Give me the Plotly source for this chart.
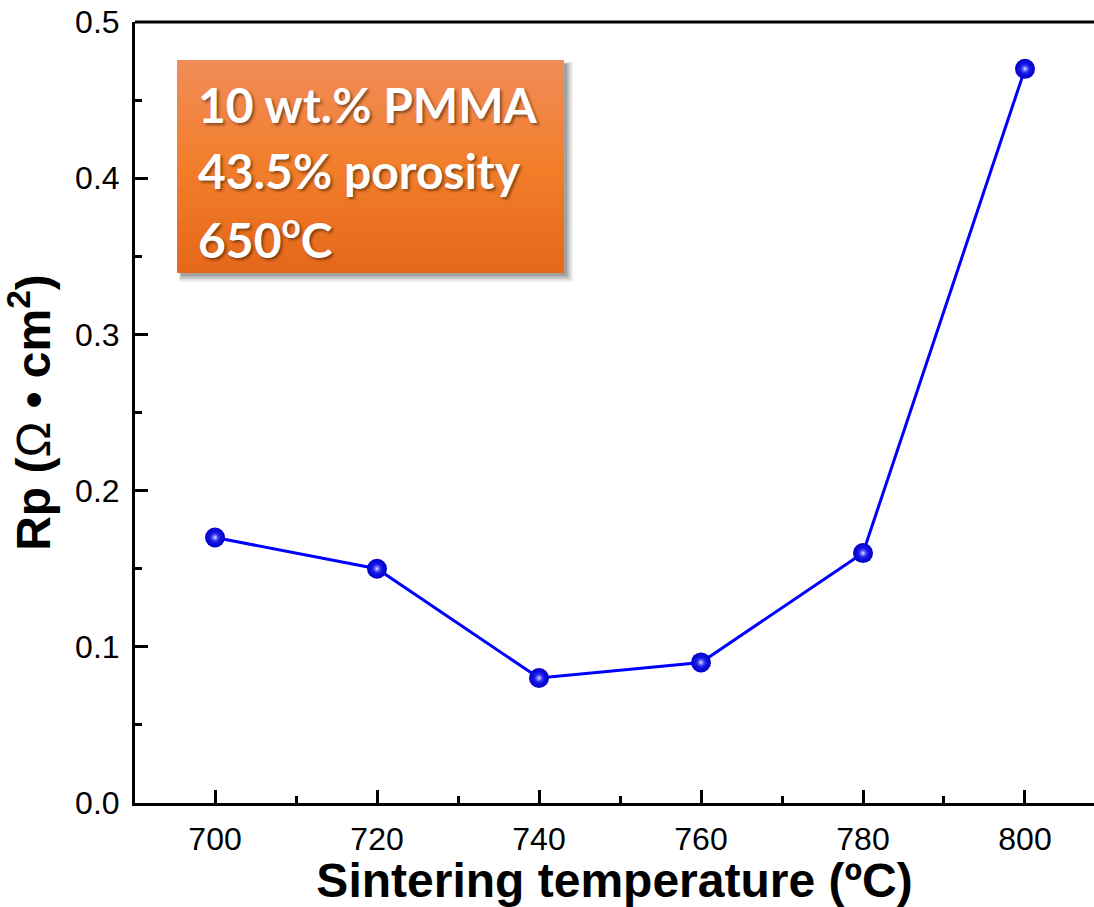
import plotly.graph_objects as go

# Polarization resistance vs sintering temperature
temperature = [700, 720, 740, 760, 780, 800]
rp = [0.17, 0.15, 0.08, 0.09, 0.16, 0.47]

x_ticks = [700, 720, 740, 760, 780, 800]
y_ticks = [0.0, 0.1, 0.2, 0.3, 0.4, 0.5]
y_tick_labels = ["0.0", "0.1", "0.2", "0.3", "0.4", "0.5"]

box_lines = ["10 wt.% PMMA", "43.5% porosity", "650<sup>o</sup>C"]

W, H = 1094, 907
ML, MR, MT, MB = 135, 0, 22, 104

fig = go.Figure()

fig.add_trace(go.Scatter(
    x=temperature, y=rp, mode="lines",
    line=dict(color="#0000ff", width=3),
    hoverinfo="skip", showlegend=False,
))
# shaded spheres: blue body (radial gradient: centre = gradient.color) plus a soft highlight
fig.add_trace(go.Scatter(
    x=temperature, y=rp, mode="markers",
    marker=dict(size=20, color="#0000c8", line=dict(width=0),
                gradient=dict(type="radial", color="#2a2aff")),
    showlegend=False,
))
fig.add_trace(go.Scatter(
    x=temperature, y=rp, mode="markers",
    marker=dict(size=11, color="rgba(40,40,255,0)", line=dict(width=0),
                gradient=dict(type="radial", color="#eeeeff")),
    hoverinfo="skip", showlegend=False,
))

shapes = []

# px -> paper helpers for the annotation box
def px_x(p):
    return (p - ML) / (W - ML - MR)

def px_y(p):
    return 1 - (p - MT) / (H - MT - MB)

bx0, bx1, by0, by1 = 177, 564, 60, 273

# soft drop shadow
for i, a in enumerate([0.06, 0.07, 0.08, 0.1, 0.12]):
    off = 9 - i * 1.5
    shapes.append(dict(type="rect", xref="paper", yref="paper",
                       x0=px_x(bx0 + 2 + i * 0.5), x1=px_x(bx1 + off),
                       y0=px_y(by1 + off), y1=px_y(by0 + 2 + i * 0.5),
                       line=dict(width=0), fillcolor=f"rgba(0,0,0,{a})", layer="above"))

# vertical orange gradient
top = (241, 140, 88)
mid = (242, 126, 42)
bot = (230, 104, 26)
n = 60
for i in range(n):
    t = i / (n - 1)
    if t < 0.5:
        u = t / 0.5
        c = [round(top[k] + (mid[k] - top[k]) * u) for k in range(3)]
    else:
        u = (t - 0.5) / 0.5
        c = [round(mid[k] + (bot[k] - mid[k]) * u) for k in range(3)]
    ya = by0 + (by1 - by0) * i / n
    yb = by0 + (by1 - by0) * (i + 1) / n + 0.6
    shapes.append(dict(type="rect", xref="paper", yref="paper",
                       x0=px_x(bx0), x1=px_x(bx1),
                       y0=px_y(min(yb, by1)), y1=px_y(ya),
                       line=dict(width=0), fillcolor=f"rgb({c[0]},{c[1]},{c[2]})",
                       layer="above"))

# top frame line
shapes.append(dict(type="line", xref="paper", yref="paper", x0=0, x1=1, y0=1, y1=1,
                   line=dict(color="black", width=3)))

annotations = []
line_centers = [104, 170, 236]
for txt, yc in zip(box_lines, line_centers):
    annotations.append(dict(
        text=txt, xref="paper", yref="paper", x=px_x(196), y=px_y(yc),
        xanchor="left", yanchor="middle", showarrow=False,
        font=dict(family="Lato", size=48, color="white", weight="bold",
                  shadow="2px 2px 3px rgba(0,0,0,0.45)"),
    ))

fig.update_layout(
    width=W, height=H,
    margin=dict(l=ML, r=MR, t=MT, b=MB),
    paper_bgcolor="white", plot_bgcolor="white",
    shapes=shapes, annotations=annotations,
    font=dict(family="Liberation Sans, Arial", color="black"),
    xaxis=dict(
        range=[690.12, 808.52], tickmode="array", tickvals=x_ticks,
        ticks="inside", ticklen=13, tickwidth=2.5, tickcolor="black",
        minor=dict(dtick=10, ticks="inside", ticklen=7, tickwidth=2.5, tickcolor="black"),
        showline=True, linewidth=3, linecolor="black", showgrid=False, zeroline=False,
        tickfont=dict(size=32), ticklabelstandoff=6,
        title=dict(text="Sintering temperature (ºC)", standoff=6,
                   font=dict(size=48, weight="bold")),
    ),
    yaxis=dict(
        range=[0, 0.5], tickmode="array", tickvals=y_ticks, ticktext=y_tick_labels,
        ticks="inside", ticklen=13, tickwidth=2.5, tickcolor="black",
        minor=dict(dtick=0.05, ticks="inside", ticklen=7, tickwidth=2.5, tickcolor="black"),
        showline=True, linewidth=3, linecolor="black", showgrid=False, zeroline=False,
        tickfont=dict(size=32), ticklabelstandoff=6,
        title=dict(text="Rp (<span style='font-weight:normal'>Ω</span> • cm<sup>2</sup>)",
                   standoff=10, font=dict(size=48, weight="bold")),
    ),
)

fig.write_html("out.html")
